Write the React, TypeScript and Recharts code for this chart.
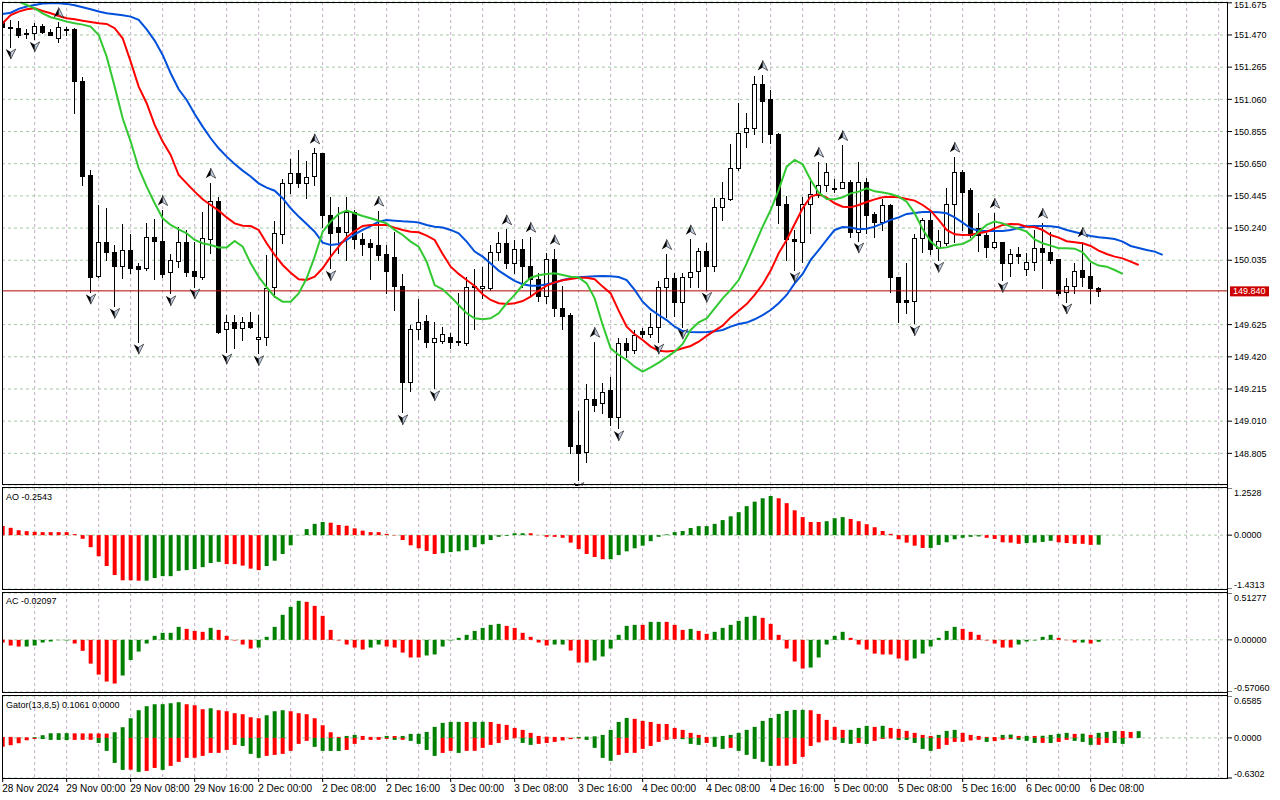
import React from 'react';
import { ComposedChart, Bar, Line, Scatter, XAxis, YAxis, CartesianGrid, ReferenceLine, Cell } from 'recharts';

const FONT = '"Liberation Sans", Arial, sans-serif';
const V_GRID = '#c2acc4';
const H_GRID = '#a4c8a4';
const UP = '#008000';
const DOWN = '#ff0000';

// USDJPY H1, 28 Nov 16:00 .. 6 Dec 09:00
const opens = [
  151.561, 151.519, 151.512, 151.483, 151.485, 151.527, 151.487, 151.449, 151.502, 151.506,
  151.177, 150.578, 149.937, 150.149, 150.090, 150.001, 150.100, 150.001, 149.984, 150.181,
  150.156, 149.962, 150.032, 150.149, 149.967, 149.930, 150.168, 150.410, 149.595, 149.644,
  149.601, 149.640, 149.531, 149.548, 149.863, 150.200, 150.525, 150.589, 150.525, 150.572,
  150.716, 150.323, 150.245, 150.213, 150.340, 150.170, 150.143, 150.132, 150.075, 150.058,
  149.871, 149.262, 149.595, 149.648, 149.516, 149.523, 149.544, 149.521, 149.506, 149.871,
  149.856, 149.856, 150.090, 150.143, 150.020, 150.105, 150.001, 149.914, 149.809, 150.041,
  149.729, 149.689, 148.858, 148.816, 149.151, 149.124, 149.209, 149.039, 149.510, 149.463,
  149.584, 149.563, 149.608, 149.867, 149.924, 149.771, 149.930, 149.969, 150.096, 150.001,
  150.372, 150.425, 150.621, 150.850, 150.876, 151.158, 151.060, 150.839, 150.393, 150.168,
  150.153, 150.393, 150.451, 150.515, 150.493, 150.493, 150.536, 150.217, 150.532, 150.330,
  150.281, 150.387, 149.926, 149.782, 149.778, 150.175, 150.292, 150.111, 150.147, 150.393,
  150.599, 150.483, 150.243, 150.196, 150.122, 150.149, 150.016, 150.073, 149.977, 150.022,
  150.111, 150.086, 150.041, 149.831, 149.873, 149.973, 149.935, 149.856,
];
const highs = [
  151.576, 151.566, 151.561, 151.506, 151.549, 151.540, 151.506, 151.552, 151.519, 151.512,
  151.200, 150.610, 150.387, 150.366, 150.132, 150.266, 150.202, 150.016, 150.270, 150.298,
  150.355, 150.075, 150.249, 150.228, 150.149, 150.340, 150.529, 150.440, 149.686, 149.686,
  149.676, 149.708, 149.686, 150.069, 150.287, 150.551, 150.678, 150.737, 150.669, 150.748,
  150.720, 150.440, 150.372, 150.436, 150.355, 150.207, 150.168, 150.351, 150.132, 150.217,
  149.947, 149.623, 149.788, 149.686, 149.644, 149.612, 149.574, 149.824, 149.930, 149.977,
  149.994, 150.132, 150.213, 150.232, 150.164, 150.168, 150.185, 149.952, 150.079, 150.105,
  149.871, 149.699, 149.075, 149.247, 149.516, 149.251, 149.294, 149.538, 149.538, 149.591,
  149.601, 149.697, 149.905, 150.075, 149.952, 149.952, 150.168, 150.111, 150.147, 150.429,
  150.536, 150.776, 151.035, 150.971, 151.209, 151.215, 151.120, 150.844, 150.444, 150.228,
  150.440, 150.557, 150.663, 150.653, 150.551, 150.769, 150.546, 150.663, 150.557, 150.345,
  150.423, 150.393, 149.930, 150.016, 150.202, 150.302, 150.334, 150.228, 150.493, 150.695,
  150.610, 150.493, 150.334, 150.207, 150.338, 150.149, 150.105, 150.117, 150.079, 150.228,
  150.274, 150.217, 150.041, 149.920, 150.016, 150.153, 150.016, 149.863,
];
const lows = [
  151.512, 151.396, 151.459, 151.449, 151.442, 151.481, 151.468, 151.428, 151.470, 150.975,
  150.515, 149.835, 149.930, 150.037, 149.744, 149.924, 149.956, 149.516, 149.973, 149.916,
  149.930, 149.824, 149.994, 149.937, 149.867, 149.914, 150.079, 149.574, 149.453, 149.474,
  149.527, 149.601, 149.442, 149.495, 149.803, 150.147, 150.466, 150.500, 150.429, 150.515,
  150.249, 149.984, 150.079, 150.037, 150.111, 150.069, 149.914, 150.037, 149.824, 149.718,
  149.066, 149.204, 149.533, 149.485, 149.219, 149.506, 149.474, 149.495, 149.495, 149.595,
  149.792, 149.846, 150.037, 149.984, 149.956, 149.867, 149.814, 149.774, 149.760, 149.683,
  149.595, 148.805, 148.635, 148.752, 149.077, 149.060, 148.986, 148.964, 149.417, 149.442,
  149.548, 149.548, 149.516, 149.676, 149.680, 149.612, 149.867, 149.867, 149.846, 149.969,
  150.290, 150.419, 150.610, 150.759, 150.839, 150.791, 150.780, 150.270, 150.037, 149.973,
  150.026, 150.207, 150.440, 150.476, 150.472, 150.493, 150.185, 150.160, 150.207, 150.185,
  150.228, 149.835, 149.644, 149.701, 149.633, 150.090, 150.075, 150.037, 150.132, 150.153,
  150.228, 150.185, 150.096, 150.058, 150.111, 149.909, 149.935, 150.016, 149.941, 149.973,
  149.856, 150.016, 149.814, 149.772, 149.824, 149.874, 149.765, 149.809,
];
const closes = [
  151.519, 151.515, 151.470, 151.479, 151.527, 151.487, 151.470, 151.523, 151.508, 151.179,
  150.574, 149.930, 150.149, 150.090, 150.001, 150.100, 149.988, 149.977, 150.181, 150.160,
  149.947, 150.035, 150.149, 149.962, 149.937, 150.175, 150.410, 149.580, 149.640, 149.601,
  149.640, 149.612, 149.548, 149.856, 150.207, 150.525, 150.589, 150.525, 150.568, 150.716,
  150.323, 150.207, 150.213, 150.340, 150.170, 150.139, 150.122, 150.069, 149.969, 149.871,
  149.262, 149.595, 149.644, 149.516, 149.538, 149.565, 149.516, 149.512, 149.863, 149.863,
  149.871, 150.090, 150.143, 150.020, 150.105, 150.001, 149.914, 149.809, 150.041, 149.729,
  149.683, 148.854, 148.809, 149.151, 149.113, 149.198, 149.039, 149.506, 149.463, 149.559,
  149.563, 149.612, 149.863, 149.920, 149.771, 149.926, 149.962, 150.096, 149.999, 150.372,
  150.429, 150.621, 150.848, 150.876, 151.158, 151.052, 150.839, 150.389, 150.170, 150.156,
  150.393, 150.457, 150.515, 150.599, 150.487, 150.536, 150.217, 150.532, 150.323, 150.281,
  150.387, 149.926, 149.771, 149.771, 150.175, 150.292, 150.105, 150.158, 150.393, 150.599,
  150.472, 150.196, 150.196, 150.122, 150.149, 150.016, 150.073, 150.064, 150.026, 150.111,
  150.090, 150.037, 149.824, 149.873, 149.969, 149.931, 149.856, 149.840,
];
const lastPrice = 149.84;

// Alligator (13,8,5) lines, already shifted forward
const jaw = [
  151.604, 151.612, 151.636, 151.651, 151.661, 151.670, 151.672, 151.672, 151.668, 151.659,
  151.646, 151.634, 151.619, 151.608, 151.602, 151.595, 151.587, 151.566, 151.506, 151.434,
  151.343, 151.226, 151.124, 151.056, 150.967, 150.886, 150.812, 150.748, 150.695, 150.648,
  150.606, 150.568, 150.525, 150.498, 150.478, 150.430, 150.366, 150.313, 150.266, 150.217,
  150.147, 150.132, 150.139, 150.164, 150.200, 150.228, 150.253, 150.281, 150.292, 150.287,
  150.283, 150.281, 150.275, 150.260, 150.249, 150.243, 150.228, 150.207, 150.154, 150.090,
  150.058, 150.015, 149.969, 149.935, 149.903, 149.882, 149.873, 149.873, 149.882, 149.892,
  149.909, 149.920, 149.926, 149.930, 149.933, 149.935, 149.933, 149.928, 149.909, 149.846,
  149.771, 149.722, 149.686, 149.654, 149.612, 149.584, 149.578, 149.576, 149.578, 149.582,
  149.591, 149.612, 149.629, 149.638, 149.659, 149.686, 149.718, 149.761, 149.814, 149.888,
  149.948, 150.037, 150.100, 150.164, 150.228, 150.247, 150.243, 150.232, 150.236, 150.249,
  150.270, 150.292, 150.308, 150.330, 150.336, 150.342, 150.342, 150.340, 150.334, 150.308,
  150.275, 150.238, 150.223, 150.221, 150.221, 150.221, 150.228, 150.240, 150.251, 150.253,
  150.253, 150.251, 150.245, 150.228, 150.215, 150.202, 150.190, 150.181, 150.177, 150.170,
  150.154, 150.126, 150.113, 150.100, 150.090, 150.069,
];
const teeth = [
  151.544, 151.597, 151.619, 151.634, 151.640, 151.623, 151.608, 151.591, 151.576, 151.570,
  151.561, 151.553, 151.544, 151.540, 151.513, 151.449, 151.300, 151.141, 151.035, 150.897,
  150.791, 150.706, 150.578, 150.525, 150.472, 150.423, 150.387, 150.351, 150.308, 150.270,
  150.255, 150.253, 150.228, 150.143, 150.069, 150.005, 149.956, 149.914, 149.909, 149.930,
  149.984, 150.058, 150.122, 150.181, 150.221, 150.253, 150.260, 150.260, 150.260, 150.243,
  150.228, 150.217, 150.213, 150.192, 150.164, 150.075, 149.994, 149.948, 149.909, 149.871,
  149.818, 149.782, 149.761, 149.756, 149.761, 149.775, 149.803, 149.841, 149.873, 149.894,
  149.907, 149.916, 149.924, 149.924, 149.914, 149.867, 149.824, 149.714, 149.612, 149.563,
  149.527, 149.485, 149.459, 149.453, 149.459, 149.474, 149.489, 149.516, 149.553, 149.587,
  149.618, 149.671, 149.714, 149.756, 149.814, 149.882, 149.969, 150.079, 150.164, 150.266,
  150.366, 150.440, 150.457, 150.434, 150.398, 150.376, 150.372, 150.387, 150.406, 150.423,
  150.436, 150.440, 150.436, 150.425, 150.415, 150.387, 150.351, 150.292, 150.228, 150.200,
  150.196, 150.198, 150.207, 150.217, 150.238, 150.260, 150.266, 150.264, 150.249, 150.247,
  150.228, 150.196, 150.179, 150.156, 150.149, 150.143, 150.126, 150.096, 150.075, 150.058,
  150.047, 150.026, 150.005,
];
const lips = [
  151.735, 151.704, 151.682, 151.661, 151.640, 151.608, 151.583, 151.570, 151.555, 151.544,
  151.536, 151.523, 151.470, 151.332, 151.141, 150.939, 150.791, 150.621, 150.504, 150.398,
  150.302, 150.260, 150.232, 150.207, 150.164, 150.143, 150.132, 150.117, 150.117, 150.158,
  150.122, 150.015, 149.930, 149.863, 149.803, 149.771, 149.771, 149.824, 149.920, 150.058,
  150.217, 150.281, 150.330, 150.351, 150.334, 150.317, 150.302, 150.287, 150.270, 150.228,
  150.196, 150.154, 150.122, 150.026, 149.877, 149.850, 149.803, 149.750, 149.697, 149.665,
  149.659, 149.665, 149.697, 149.761, 149.814, 149.877, 149.924, 149.939, 149.948, 149.952,
  149.941, 149.930, 149.926, 149.888, 149.792, 149.623, 149.474, 149.432, 149.400, 149.357,
  149.325, 149.353, 149.383, 149.417, 149.453, 149.502, 149.591, 149.640, 149.665, 149.729,
  149.792, 149.846, 149.909, 150.015, 150.132, 150.249, 150.355, 150.483, 150.631, 150.674,
  150.646, 150.546, 150.466, 150.425, 150.423, 150.436, 150.461, 150.472, 150.493, 150.474,
  150.466, 150.457, 150.440, 150.408, 150.334, 150.232, 150.154, 150.111, 150.117, 150.132,
  150.139, 150.164, 150.217, 150.260, 150.281, 150.270, 150.249, 150.236, 150.217, 150.168,
  150.143, 150.128, 150.111, 150.111, 150.109, 150.086, 150.026, 150.001, 149.994, 149.973,
  149.948,
];

// bar indices carrying a fractal mark
const upFractals = [7, 20, 26, 39, 47, 63, 66, 69, 74, 83, 86, 95, 102, 105, 119, 124, 130, 135];
const downFractals = [1, 4, 11, 14, 17, 21, 24, 28, 32, 41, 50, 54, 72, 77, 82, 85, 88, 99, 107, 114, 117, 125, 133];

const aoValues = [
  0.24, 0.195, 0.13, 0.106, 0.09, 0.08, 0.08, 0.08, 0.08, 0.027,
  -0.097, -0.32, -0.56, -0.82, -1.06, -1.2, -1.2, -1.21, -1.21, -1.14,
  -1.09, -1.09, -0.95, -0.93, -0.9, -0.85, -0.74, -0.71, -0.77, -0.77,
  -0.81, -0.89, -0.93, -0.82, -0.68, -0.5, -0.27, 0.005, 0.16, 0.3,
  0.35, 0.33, 0.27, 0.25, 0.18, 0.12, 0.08, 0.08, 0.035, -0.01,
  -0.13, -0.27, -0.35, -0.42, -0.5, -0.48, -0.45, -0.43, -0.4, -0.32,
  -0.24, -0.13, -0.045, -0.02, 0.05, 0.05, 0.05, 0.005, -0.045, -0.045,
  -0.07, -0.2, -0.37, -0.5, -0.58, -0.64, -0.64, -0.53, -0.43, -0.35,
  -0.28, -0.16, -0.045, 0.02, 0.08, 0.11, 0.19, 0.24, 0.24, 0.3,
  0.4, 0.5, 0.61, 0.77, 0.89, 0.98, 1.04, 0.98, 0.85, 0.66,
  0.48, 0.35, 0.35, 0.37, 0.45, 0.48, 0.43, 0.37, 0.29, 0.21,
  0.11, 0.035, -0.11, -0.2, -0.28, -0.34, -0.34, -0.26, -0.19, -0.11,
  -0.07, -0.045, -0.035, -0.07, -0.1, -0.19, -0.2, -0.23, -0.21, -0.2,
  -0.18, -0.15, -0.19, -0.21, -0.23, -0.23, -0.26, -0.2543,
];
const aoColors = [
  'rrrrrrrrrrrrrrrrrr', 'gggggggggg', 'rrrrr', 'gggggggg', 'rrrrrrrrrrrrrr', 'ggggggggggg',
  'rrrrrrrrrr', 'ggggggggggggggggggggg', 'rrrrrr', 'ggg', 'rrrrrrrrrr', 'ggggggg', 'rrrrr',
  'gggg', 'rrrrr', 'g',
].join('');

const acValues = [
  -0.03, -0.062, -0.073, -0.073, -0.062, -0.029, -0.018, -0.004, -0.007, -0.04,
  -0.12, -0.26, -0.38, -0.456, -0.478, -0.39, -0.22, -0.128, -0.04, 0.044,
  0.077, 0.077, 0.142, 0.12, 0.098, 0.088, 0.131, 0.109, 0.044, -0.007,
  -0.051, -0.095, -0.084, 0.033, 0.142, 0.274, 0.361, 0.427, 0.416, 0.372,
  0.263, 0.109, -0.007, -0.051, -0.084, -0.106, -0.084, -0.051, -0.073, -0.084,
  -0.139, -0.193, -0.193, -0.171, -0.16, -0.073, -0.007, 0.022, 0.055, 0.098,
  0.131, 0.164, 0.175, 0.153, 0.131, 0.077, 0.033, -0.029, -0.062, -0.051,
  -0.051, -0.117, -0.248, -0.248, -0.226, -0.182, -0.095, 0.055, 0.153, 0.164,
  0.164, 0.197, 0.197, 0.197, 0.164, 0.109, 0.12, 0.098, 0.066, 0.088,
  0.131, 0.164, 0.208, 0.252, 0.263, 0.241, 0.175, 0.055, -0.095, -0.237,
  -0.314, -0.303, -0.193, -0.051, 0.044, 0.088, 0.022, -0.051, -0.106, -0.15,
  -0.16, -0.16, -0.204, -0.226, -0.204, -0.15, -0.073, 0.022, 0.098, 0.142,
  0.12, 0.088, 0.055, -0.007, -0.04, -0.084, -0.084, -0.051, -0.018, -0.007,
  0.033, 0.055, 0.022, -0.004, -0.029, -0.029, -0.04, -0.02097,
];
const acColors = [
  'rrr', 'gggggg', 'rrrrrr', 'gggggggg', 'rrr', 'g', 'rrrrr', 'gggggg', 'rrrrrrrr', 'gg',
  'rrrrr', 'gggggggggg', 'rrrrrr', 'gg', 'rrr', 'gggggg', 'r', 'gg', 'rrr', 'g', 'rr',
  'gggggg', 'rrrrrr', 'ggggg', 'rrrrrrrr', 'gggggg', 'rrrrrrr', 'ggggg', 'rrr', 'g', 'r', 'g',
].join('');

// Gator: upper = |jaw - teeth|, lower = |teeth - lips|
const gatorUp = [
  0.016, 0.016, 0.01, 0.01, 0.012, 0.042, 0.073, 0.074, 0.075, 0.072,
  0.071, 0.07, 0.069, 0.068, 0.089, 0.168, 0.309, 0.435, 0.498, 0.529,
  0.53, 0.545, 0.561, 0.529, 0.513, 0.451, 0.466, 0.435, 0.419, 0.388,
  0.372, 0.325, 0.309, 0.356, 0.419, 0.435, 0.419, 0.388, 0.372, 0.309,
  0.199, 0.089, 0.016, 0.031, 0.047, 0.031, 0.016, 0.015, 0.031, 0.03,
  0.031, 0.063, 0.064, 0.094, 0.173, 0.236, 0.251, 0.252, 0.25, 0.252,
  0.253, 0.25, 0.22, 0.204, 0.157, 0.126, 0.079, 0.031, 0.02, 0.016,
  0.014, 0.003, 0.016, 0.02, 0.025, 0.047, 0.126, 0.251, 0.314, 0.299,
  0.267, 0.251, 0.22, 0.218, 0.157, 0.126, 0.079, 0.047, 0.016, 0.018,
  0.031, 0.047, 0.079, 0.126, 0.173, 0.267, 0.314, 0.377, 0.424, 0.44,
  0.441, 0.435, 0.377, 0.283, 0.173, 0.126, 0.127, 0.157, 0.189, 0.173,
  0.19, 0.157, 0.141, 0.11, 0.079, 0.047, 0.031, 0.047, 0.11, 0.126,
  0.079, 0.047, 0.031, 0.016, 0.014, 0.047, 0.052, 0.031, 0.033, 0.031,
  0.034, 0.047, 0.063, 0.079, 0.063, 0.066, 0.047, 0.079, 0.094, 0.11,
  0.108, 0.094, 0.1061,
];
const gatorDown = [
  0.141, 0.115, 0.084, 0.037, 0.016, 0.018, 0.031, 0.032, 0.033, 0.031,
  0.03, 0.03, 0.079, 0.204, 0.393, 0.503, 0.5, 0.534, 0.519, 0.472,
  0.503, 0.44, 0.377, 0.314, 0.312, 0.283, 0.236, 0.235, 0.189, 0.11,
  0.126, 0.251, 0.314, 0.283, 0.267, 0.251, 0.204, 0.094, 0.047, 0.141,
  0.204, 0.205, 0.206, 0.189, 0.094, 0.031, 0.031, 0.03, 0.016, 0.031,
  0.03, 0.047, 0.094, 0.189, 0.283, 0.236, 0.204, 0.236, 0.204, 0.203,
  0.157, 0.11, 0.079, 0.031, 0.005, 0.079, 0.11, 0.094, 0.079, 0.063,
  0.04, 0.02, 0.01, 0.031, 0.157, 0.314, 0.361, 0.267, 0.236, 0.235,
  0.173, 0.126, 0.063, 0.031, 0.016, 0.02, 0.094, 0.11, 0.079, 0.141,
  0.173, 0.157, 0.204, 0.267, 0.33, 0.377, 0.44, 0.438, 0.436, 0.409,
  0.299, 0.126, 0.07, 0.04, 0.031, 0.079, 0.094, 0.079, 0.095, 0.047,
  0.016, 0.01, 0.031, 0.032, 0.079, 0.173, 0.204, 0.173, 0.11, 0.063,
  0.062, 0.04, 0.03, 0.063, 0.05, 0.03, 0.02, 0.03, 0.047, 0.079,
  0.078, 0.08, 0.063, 0.031, 0.047, 0.063, 0.11, 0.109, 0.079, 0.08,
  0.094,
];

const priceTicks = [151.675, 151.47, 151.265, 151.06, 150.855, 150.65, 150.445, 150.24, 150.035, 149.625, 149.42, 149.215, 149.01, 148.805];
const timeTickIdx = [0, 8, 16, 24, 32, 40, 48, 56, 64, 72, 80, 88, 96, 104, 112, 120, 128, 136];
const timeLabels = [
  '28 Nov 2024', '29 Nov 00:00', '29 Nov 08:00', '29 Nov 16:00', '2 Dec 00:00', '2 Dec 08:00',
  '2 Dec 16:00', '3 Dec 00:00', '3 Dec 08:00', '3 Dec 16:00', '4 Dec 00:00', '4 Dec 08:00',
  '4 Dec 16:00', '5 Dec 00:00', '5 Dec 08:00', '5 Dec 16:00', '6 Dec 00:00', '6 Dec 08:00',
];

const X_DOMAIN = [-0.084, 153.166];
const gridIdx = Array.from({ length: 38 }, (_, k) => 4 + 4 * k);

const mainData = jaw.map((_, i) => ({
  i,
  range: i < opens.length ? [lows[i], highs[i]] : null,
  o: opens[i], h: highs[i], l: lows[i], c: closes[i],
  jaw: jaw[i] ?? null,
  teeth: teeth[i] ?? null,
  lips: lips[i] ?? null,
}));
const upData = upFractals.map((i) => ({ i, v: highs[i] }));
const downData = downFractals.map((i) => ({ i, v: lows[i] }));
const aoData = aoValues.map((v, i) => ({ i, v }));
const acData = acValues.map((v, i) => ({ i, v }));
const gatorData = gatorUp.map((v, i) => ({
  i,
  up: v,
  dn: gatorDown[i] != null ? -gatorDown[i] : null,
}));

// vertical grid every 4 bars, placed with the x axis scale
const gridLinesX = (p: any) =>
  gridIdx.map((v) =>
    p.xAxis && typeof p.xAxis.scale === 'function'
      ? p.xAxis.scale(v)
      : p.offset.left + ((v - X_DOMAIN[0]) / (X_DOMAIN[1] - X_DOMAIN[0])) * p.offset.width
  );

const Candle = (props: any) => {
  const { x, width, y, height, payload } = props;
  if (!payload || payload.o == null || y == null) return <g />;
  const { o, h, l, c } = payload;
  const span = h - l || 1;
  const yOf = (v: number) => y + ((h - v) / span) * height;
  const cx = Math.round(x + width / 2);
  const top = Math.round(yOf(Math.max(o, c)));
  const bot = Math.round(yOf(Math.min(o, c)));
  const bull = c > o;
  return (
    <g shapeRendering="crispEdges">
      <line x1={cx + 0.5} x2={cx + 0.5} y1={Math.round(y)} y2={Math.round(y + height) + 1} stroke="#000" />
      {bot - top < 1 ? (
        <line x1={cx - 2} x2={cx + 3} y1={top + 0.5} y2={top + 0.5} stroke="#000" />
      ) : (
        <rect x={cx - 1.5} y={top + 0.5} width={4} height={bot - top} fill={bull ? '#fff' : '#000'} stroke="#000" />
      )}
    </g>
  );
};

const Fractal = ({ cx, cy, dir }: any) => {
  if (cx == null || cy == null) return <g />;
  const s = dir === 'up' ? 1 : -1;
  const yy = dir === 'up' ? cy - 9 : cy + 7;
  return (
    <g transform={`translate(${cx},${yy}) scale(1,${s})`}>
      <path d="M0,-5.5 L-5,4.5 L0,1.5 Z" fill="#000" />
      <path d="M0,-5.5 L5,4.5 L0,1.5 Z" fill="#c9d4ea" stroke="#000" strokeWidth={0.6} />
    </g>
  );
};

const PriceLabel = (props: any) => {
  const vb = props.viewBox || {};
  const x0 = vb.x + vb.width + 2;
  const y0 = vb.y;
  return (
    <g>
      <rect x={x0} y={y0 - 4.5} width={39} height={10} fill="#cc0000" />
      <text x={x0 + 3} y={y0 + 3.5} fontSize={9} fontFamily={FONT} fill="#fff">{lastPrice.toFixed(3)}</text>
    </g>
  );
};

const PriceTick = (props: any) => {
  const { x, y, payload } = props;
  const v = payload.value;
  const dy = v === priceTicks[0] ? 4.8 : 3.2;
  return (
    <text x={x} y={y + dy} fontSize={9} fontFamily={FONT} fill="#000" textAnchor="start">
      {v.toFixed(3)}
    </text>
  );
};

const EdgeTick = (props: any) => {
  const { x, y, payload, lo, hi, digits } = props;
  const v = payload.value;
  let dy = 3.2;
  if (v === hi) dy += 4.5;
  if (v === lo) dy -= 4.5;
  return (
    <text x={x} y={y + dy} fontSize={9} fontFamily={FONT} fill="#000" textAnchor="start">
      {v.toFixed(digits)}
    </text>
  );
};

const TimeTick = (props: any) => {
  const { x, y, payload } = props;
  const label = timeLabels[timeTickIdx.indexOf(payload.value)];
  return (
    <text x={x - 0.5} y={y + 8} fontSize={10} fontFamily={FONT} fill="#000" textAnchor="start">
      {label}
    </text>
  );
};

const SubPane = ({ data, lo, hi, digits, children, height }: any) => (
  <ComposedChart width={1280} height={height} data={data} margin={{ top: 0, right: 0, bottom: 0, left: 2 }}>
    <XAxis dataKey="i" type="number" domain={X_DOMAIN} allowDataOverflow hide />
    <YAxis orientation="right" width={52} type="number" domain={[lo, hi]} allowDataOverflow ticks={[hi, 0, lo]}
      interval={0} axisLine={false} tickSize={4} tickLine={{ stroke: '#000' }}
      tick={(p: any) => <EdgeTick {...p} lo={lo} hi={hi} digits={digits} />} />
    <CartesianGrid horizontal={false} stroke={V_GRID} strokeDasharray="3 3" verticalCoordinatesGenerator={gridLinesX} />
    <CartesianGrid vertical={false} stroke={H_GRID} strokeDasharray="3 3" />
    {children}
  </ComposedChart>
);

export default function App() {
  return (
    <div style={{ position: 'absolute', left: 0, top: 0, width: 1280, height: 800, background: '#fff', overflow: 'hidden', fontFamily: FONT }}>
      <div style={{ position: 'absolute', left: 0, top: 0 }}>
        <ComposedChart width={1280} height={486} data={mainData} margin={{ top: 2, right: 0, bottom: 0, left: 2 }}>
          <XAxis dataKey="i" type="number" domain={X_DOMAIN} allowDataOverflow hide />
          <YAxis orientation="right" width={52} type="number" domain={[148.597, 151.68]} allowDataOverflow
            ticks={priceTicks} interval={0} axisLine={false} tickSize={4} tickLine={{ stroke: '#000' }}
            tick={(p: any) => <PriceTick {...p} />} />
          <CartesianGrid horizontal={false} stroke={V_GRID} strokeDasharray="3 3" verticalCoordinatesGenerator={gridLinesX} />
          <CartesianGrid vertical={false} stroke={H_GRID} strokeDasharray="3 3" />
          <ReferenceLine y={lastPrice} stroke="#b80000" label={(p: any) => <PriceLabel {...p} />} />
          <Bar dataKey="range" barSize={5} isAnimationActive={false} shape={(p: any) => <Candle {...p} />} />
          <Line dataKey="jaw" stroke="#0050dc" strokeWidth={2} dot={false} type="linear" isAnimationActive={false} />
          <Line dataKey="teeth" stroke="#ff0000" strokeWidth={2} dot={false} type="linear" isAnimationActive={false} />
          <Line dataKey="lips" stroke="#32c832" strokeWidth={2} dot={false} type="linear" isAnimationActive={false} />
          <Scatter data={upData} dataKey="v" isAnimationActive={false} shape={(p: any) => <Fractal {...p} dir="up" />} />
          <Scatter data={downData} dataKey="v" isAnimationActive={false} shape={(p: any) => <Fractal {...p} dir="down" />} />
        </ComposedChart>
      </div>

      <div style={{ position: 'absolute', left: 0, top: 488 }}>
        <SubPane data={aoData} lo={-1.4313} hi={1.2528} digits={4} height={101}>
          <Bar dataKey="v" barSize={4} isAnimationActive={false}>
            {aoData.map((d, k) => <Cell key={k} fill={aoColors[k] === 'g' ? UP : DOWN} />)}
          </Bar>
        </SubPane>
      </div>

      <div style={{ position: 'absolute', left: 0, top: 593 }}>
        <SubPane data={acData} lo={-0.5706} hi={0.51277} digits={5} height={99}>
          <Bar dataKey="v" barSize={4} isAnimationActive={false}>
            {acData.map((d, k) => <Cell key={k} fill={acColors[k] === 'g' ? UP : DOWN} />)}
          </Bar>
        </SubPane>
      </div>

      <div style={{ position: 'absolute', left: 0, top: 696 }}>
        <ComposedChart width={1280} height={102} data={gatorData} stackOffset="sign" margin={{ top: 0, right: 0, bottom: 0, left: 2 }}>
          <XAxis dataKey="i" type="number" domain={X_DOMAIN} allowDataOverflow ticks={timeTickIdx} interval={0}
            height={20} axisLine={false} tickSize={4} tickLine={{ stroke: '#000' }} tick={(p: any) => <TimeTick {...p} />} />
          <YAxis orientation="right" width={52} type="number" domain={[-0.6302, 0.6585]} allowDataOverflow
            ticks={[0.6585, 0, -0.6302]} interval={0} axisLine={false} tickSize={4} tickLine={{ stroke: '#000' }}
            tick={(p: any) => <EdgeTick {...p} lo={-0.6302} hi={0.6585} digits={4} />} />
          <CartesianGrid horizontal={false} stroke={V_GRID} strokeDasharray="3 3" verticalCoordinatesGenerator={gridLinesX} />
          <CartesianGrid vertical={false} stroke={H_GRID} strokeDasharray="3 3" />
          <Bar dataKey="up" stackId="g" barSize={4} isAnimationActive={false}>
            {gatorData.map((d, k) => (
              <Cell key={k} fill={k > 0 && d.up > gatorUp[k - 1] ? UP : DOWN} />
            ))}
          </Bar>
          <Bar dataKey="dn" stackId="g" barSize={4} isAnimationActive={false}>
            {gatorData.map((d, k) => (
              <Cell key={k} fill={k > 0 && gatorDown[k] > gatorDown[k - 1] ? UP : DOWN} />
            ))}
          </Bar>
        </ComposedChart>
      </div>

      <svg width={1280} height={800} style={{ position: 'absolute', left: 0, top: 0, pointerEvents: 'none' }} shapeRendering="crispEdges">
        <rect x={2.5} y={2.5} width={1225} height={482} fill="none" stroke="#000" />
        <rect x={2.5} y={487.5} width={1225} height={102} fill="none" stroke="#000" />
        <rect x={2.5} y={592.5} width={1225} height={100} fill="none" stroke="#000" />
        <rect x={2.5} y={695.5} width={1225} height={83} fill="none" stroke="#000" />
        <line x1={1227.5} x2={1227.5} y1={2} y2={779} stroke="#000" />
        <g fontFamily={FONT} fontSize={9} fill="#000">
          <text x={6} y={500}>AO -0.2543</text>
          <text x={6} y={604}>AC -0.02097</text>
          <text x={6} y={707.5}>Gator(13,8,5) 0.1061 0.0000</text>
        </g>
      </svg>
    </div>
  );
}
